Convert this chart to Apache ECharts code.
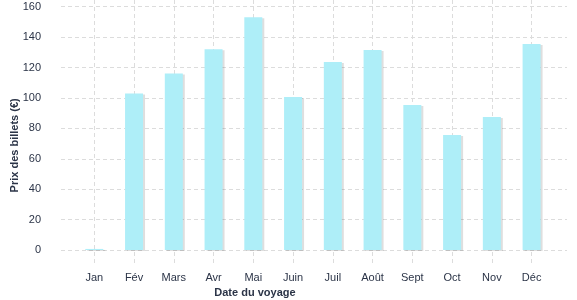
<!DOCTYPE html>
<html><head><meta charset="utf-8">
<script src="https://cdn.jsdelivr.net/npm/echarts@6/dist/echarts.min.js"></script>
<style>html,body{margin:0;padding:0;background:#fff}#c{width:577px;height:300px}</style>
</head><body><div id="c"></div>
<script>
const categories = ['Jan','Fév','Mars','Avr','Mai','Juin','Juil','Août','Sept','Oct','Nov','Déc'];
const prices = [0.7, 103, 116, 132, 153, 100.6, 123.6, 131.5, 95.4, 75.6, 87.5, 135.5];
const yTicks = [0, 20, 40, 60, 80, 100, 120, 140, 160];

const txt = '#2b3447';
const dash = {color:'#dcdcdc', type:[4,3], width:1};
const chart = echarts.init(document.getElementById('c'), null, {renderer:'canvas'});
chart.setOption({
  animation:false,
  textStyle:{fontFamily:'Liberation Sans'},
  grid:[
    {left:61, right:10, top:6.7, bottom:50, outerBoundsMode:'none', containLabel:false},
    {left:94.3, right:45.4, top:0, bottom:37, outerBoundsMode:'none', containLabel:false},
    {left:94.3, right:45.4, top:6.7, bottom:50, outerBoundsMode:'none', containLabel:false}
  ],
  xAxis:[
    {type:'category', gridIndex:0, data:categories, show:false},
    {type:'category', gridIndex:1, data:categories, boundaryGap:false,
     axisLine:{show:false}, axisTick:{show:false}, axisLabel:{show:false},
     splitLine:{show:true, interval:0, lineStyle:dash}},
    {type:'category', gridIndex:2, data:categories, boundaryGap:false,
     axisLine:{show:false}, axisTick:{show:false}, splitLine:{show:false},
     axisLabel:{color:txt, fontSize:11, margin:22, interval:0},
     name:'Date du voyage', nameLocation:'middle', nameGap:37, nameMoveOverlap:false,
     nameTextStyle:{color:txt, fontWeight:'bold', fontSize:11, padding:[0,116,0,0]}
    }
  ],
  yAxis:[
    {type:'value', gridIndex:0, min:0, max:160, interval:20,
     axisLine:{show:false}, axisTick:{show:false},
     axisLabel:{color:txt, fontSize:11, margin:20,
       formatter:v => yTicks.includes(v) ? String(v) : ''},
     splitLine:{show:true, lineStyle:dash},
     name:'Prix des billets (€)', nameLocation:'middle', nameGap:41, nameMoveOverlap:false,
     nameTextStyle:{color:txt, fontWeight:'bold', fontSize:11, padding:[0,34,0,0]}
    },
    {type:'value', gridIndex:1, min:0, max:1, show:false, splitLine:{show:false}},
    {type:'value', gridIndex:2, min:0, max:160, interval:20, show:false, splitLine:{show:false}}
  ],
  series:[{
    type:'bar', xAxisIndex:2, yAxisIndex:2, data:prices, barWidth:18,
    itemStyle:{color:'#aeeef8', shadowColor:'rgba(0,0,0,0.13)', shadowOffsetX:2, shadowOffsetY:1, shadowBlur:0}
  }]
});
</script></body></html>
